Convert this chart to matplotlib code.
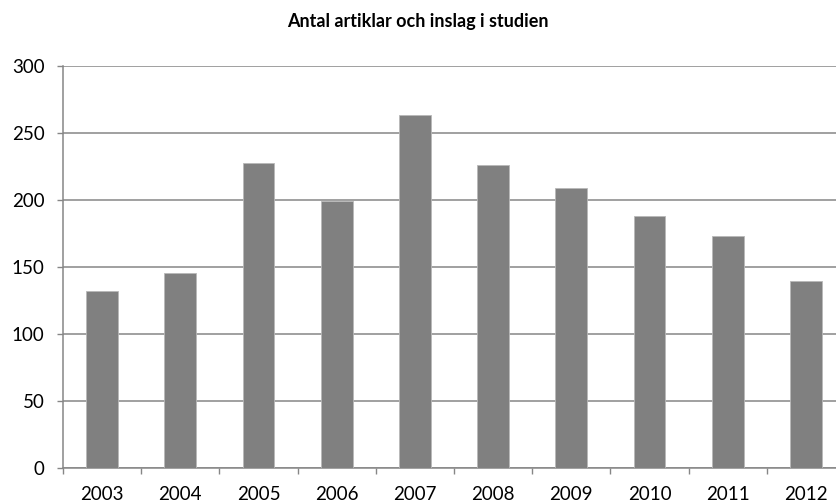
import matplotlib
matplotlib.use("Agg")
import matplotlib.pyplot as plt
import numpy as np

# data
years = ['2003', '2004', '2005', '2006', '2007', '2008', '2009', '2010', '2011', '2012']
counts = [132, 145, 227, 199, 263, 226, 209, 188, 173, 139]

plt.rcParams['font.family'] = ['Lato', 'DejaVu Sans']

fig = plt.figure(figsize=(8.36, 5.04), dpi=100)
ax = fig.add_axes([0.0754, 0.0724, 0.9354, 0.7972])

x = np.arange(len(years))
ax.bar(x, counts, width=0.405, color='#808080', edgecolor='#b8b8b8', linewidth=0.6, zorder=3)

ax.set_xlim(-0.5, len(years) - 0.5)
ax.set_ylim(0, 300)
ax.set_yticks(np.arange(0, 301, 50))
ax.yaxis.grid(True, color='#868686', linewidth=1.1, zorder=0)

# category ticks sit between bars
ax.set_xticks(x)
ax.set_xticklabels(years)
ax.set_xticks(np.arange(-0.5, len(years), 1), minor=True)
ax.tick_params(axis='x', which='major', length=0, pad=13.5, labelsize=13.5)
ax.tick_params(axis='x', which='minor', length=4.3, color='#868686', width=1)
ax.tick_params(axis='y', length=4.3, color='#868686', width=1, labelsize=13.5, pad=9)

for s in ['top', 'right']:
    ax.spines[s].set_visible(False)
for s in ['left', 'bottom']:
    ax.spines[s].set_color('#868686')
    ax.spines[s].set_linewidth(1.1)

fig.text(0.5, 1 - 21 / 504, 'Antal artiklar och inslag i studien', ha='center', va='center',
         fontsize=13, fontweight='bold')

fig.savefig('out.png', dpi=100)
